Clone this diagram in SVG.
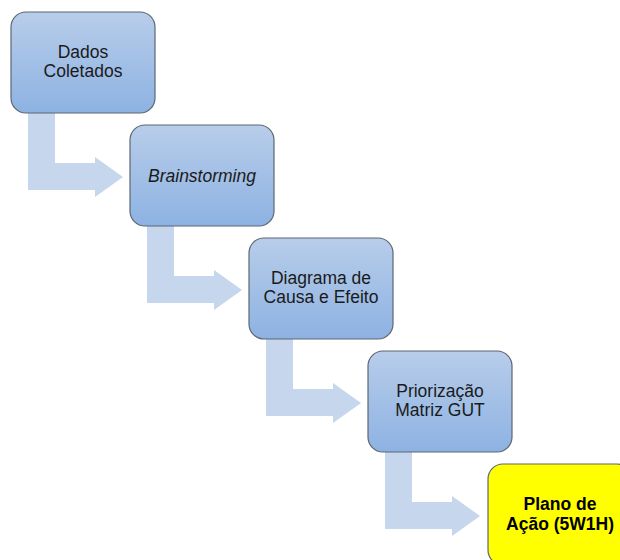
<svg xmlns="http://www.w3.org/2000/svg" width="620" height="560" viewBox="0 0 620 560">
<defs>
<linearGradient id="blueGrad" x1="0" y1="0" x2="0" y2="1">
<stop offset="0" stop-color="#b8cdea"/>
<stop offset="1" stop-color="#8db2e2"/>
</linearGradient>
<path id="arrow" d="M28,110 L55,110 L55,163 L95,163 L95,157 L123,177 L95,197 L95,190 L28,190 Z"/>
</defs>
<style>
.arr{fill:#c6d6ec;}
.box{fill:url(#blueGrad);stroke:#5c6773;stroke-width:1.2;}
.ybox{fill:#ffff00;stroke:#5c6773;stroke-width:1.2;}
.t{font-family:"Liberation Sans",Arial,sans-serif;font-size:17.5px;fill:#1a1a1a;text-anchor:middle;}
.it{font-style:italic;}
.b{font-weight:bold;fill:#000;}
</style>
<rect width="620" height="560" fill="#ffffff"/>
<g id="connectors">
<use href="#arrow" class="arr"/>
<use href="#arrow" class="arr" transform="translate(119,113)"/>
<use href="#arrow" class="arr" transform="translate(238,226)"/>
<use href="#arrow" class="arr" transform="translate(357,339)"/>
</g>
<g id="node1">
<rect class="box" x="11" y="12" width="144" height="101" rx="15"/>
<text class="t" x="83" y="58">Dados</text>
<text class="t" x="83" y="77">Coletados</text>
</g>
<g id="node2">
<rect class="box" x="130" y="125" width="144" height="101" rx="15"/>
<text class="t it" x="202" y="182">Brainstorming</text>
</g>
<g id="node3">
<rect class="box" x="249" y="238" width="144" height="101" rx="15"/>
<text class="t" x="321" y="284">Diagrama de</text>
<text class="t" x="321" y="303">Causa e Efeito</text>
</g>
<g id="node4">
<rect class="box" x="368" y="351" width="144" height="101" rx="15"/>
<text class="t" x="440" y="397">Priorização</text>
<text class="t" x="440" y="416">Matriz GUT</text>
</g>
<g id="node5">
<rect class="ybox" x="488" y="464" width="144" height="101" rx="15"/>
<text class="t b" x="560" y="510">Plano de</text>
<text class="t b" x="560" y="530">Ação (5W1H)</text>
</g>
</svg>
